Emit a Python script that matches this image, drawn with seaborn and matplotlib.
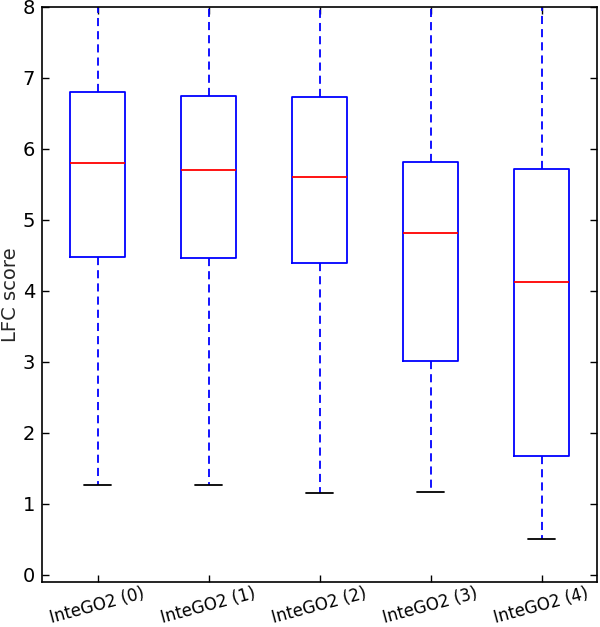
import pandas as pd
import matplotlib.pyplot as plt
import seaborn as sns

# groups and five-number summaries (upper whiskers run past the top)
methods = ['InteGO2 (0)', 'InteGO2 (1)', 'InteGO2 (2)', 'InteGO2 (3)', 'InteGO2 (4)']
low_whisker = [1.27, 1.27, 1.15, 1.17, 0.51]
q1 = [4.48, 4.46, 4.39, 3.01, 1.68]
median = [5.80, 5.70, 5.61, 4.82, 4.13]
q3 = [6.80, 6.75, 6.73, 5.82, 5.72]
high_whisker = [9.5, 9.5, 9.5, 9.5, 9.5]

rows = []
for i, m in enumerate(methods):
    for v in (low_whisker[i], q1[i], median[i], q3[i], high_whisker[i]):
        rows.append({'method': m, 'LFC score': v})
df = pd.DataFrame(rows)

sns.set_style('ticks')
plt.rcParams['font.family'] = ['DejaVu Sans']

fig = plt.figure(figsize=(6, 6.27), dpi=100)
ax = fig.add_axes([0.07, 0.072, 0.925, 0.917])

sns.boxplot(data=df, x='method', y='LFC score', ax=ax, whis=(0, 100),
            width=0.5, fill=False, linewidth=1.3, showfliers=False,
            boxprops=dict(color='#0000ff'),
            medianprops=dict(color='#ff0000'),
            whiskerprops=dict(color='#0000ff', linestyle=(0, (4.5, 2.8))),
            capprops=dict(color='black'))

ax.set_ylim(-0.1, 8)
ax.set_xlim(-0.5, 4.5)
ax.set_yticks(range(0, 9))
ax.set_xlabel('')
ax.set_ylabel('LFC score', fontsize=14, labelpad=2)
ax.tick_params(direction='in', length=5, width=1, top=True, right=True,
               labelsize=14, colors='black', pad=5)
ax.tick_params(axis='x', pad=2)
plt.setp(ax.get_xticklabels(), rotation=15, fontsize=12)
for s in ax.spines.values():
    s.set_color('black')
    s.set_linewidth(1.2)

fig.savefig('out.png', dpi=100)
